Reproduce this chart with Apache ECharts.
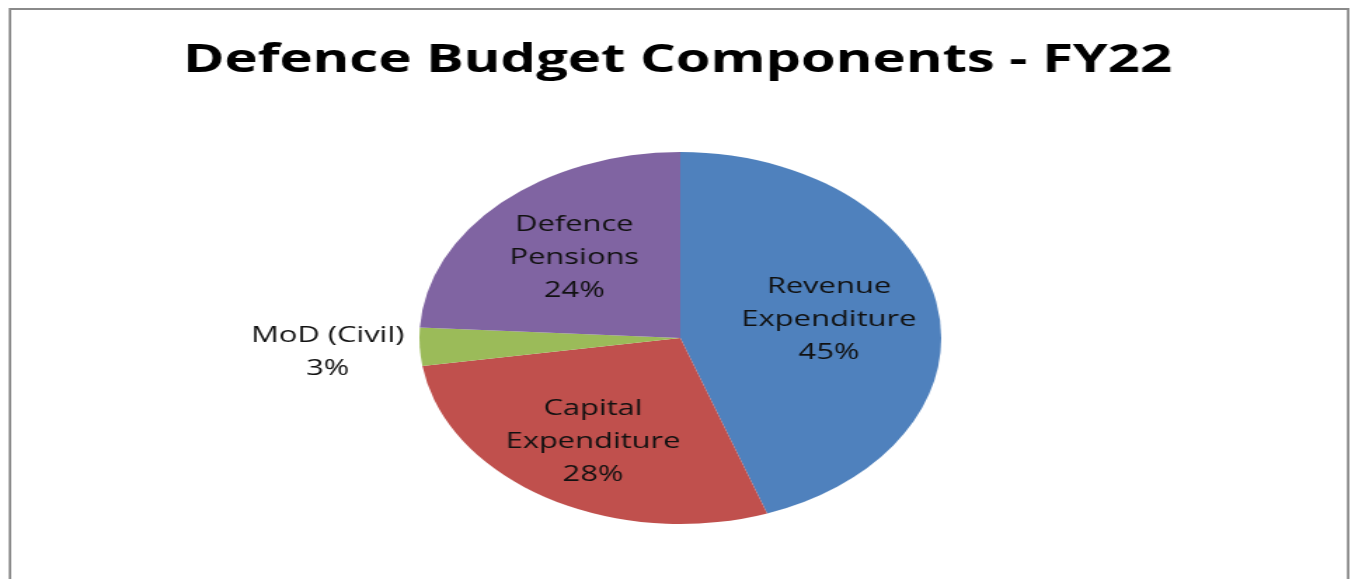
<!DOCTYPE html>
<html>
<head>
<meta charset="utf-8">
<script src="https://cdn.jsdelivr.net/npm/echarts@6/dist/echarts.min.js"></script>
<style>
  html, body { margin: 0; padding: 0; background: #fff; overflow: hidden; }
  #wrap { width: 1355px; height: 579px; overflow: hidden; }
  #chart { width: 966px; height: 579px; transform: scaleX(1.4027); transform-origin: 0 0; }
</style>
</head>
<body>
<div id="wrap"><div id="chart"></div></div>
<script>
const titleText = 'Defence Budget Components - FY22';
const categories = ['Revenue\nExpenditure', 'Capital\nExpenditure', 'MoD (Civil)', 'Defence\nPensions'];
const shares = [44.6, 28.0, 3.3, 24.1];
const colors = ['#4F81BD', '#C0504D', '#9BBB59', '#8064A2'];
const outsideLabels = ['MoD (Civil)'];
// radial placement of the inside labels, as a fraction of the radius
const labelRadius = [0.56, 0.63, 0, 0.573];

const CX = 485, CY = 338, R = 186;
const chart = echarts.init(document.getElementById('chart'), null, { renderer: 'canvas' });

chart.setOption({
  backgroundColor: '#fff',
  animation: false,
  title: {
    text: titleText,
    left: 'center',
    top: 36,
    textStyle: { fontFamily: 'Open Sans', fontWeight: 'bold', fontSize: 40, color: '#000' }
  },
  graphic: [{
    type: 'rect',
    shape: { x: 7.1, y: 9, width: 954, height: 620 },
    style: { fill: 'none', stroke: '#8a8a8a', lineWidth: 1.8 },
    silent: true
  }],
  series: [{
    type: 'pie',
    center: [CX, CY],
    radius: [0, R],
    startAngle: 90,
    clockwise: true,
    percentPrecision: 0,
    avoidLabelOverlap: false,
    itemStyle: { borderWidth: 0 },
    emphasis: { disabled: true },
    label: {
      show: true,
      position: 'inside',
      formatter: '{b}\n{d}%',
      fontFamily: 'Open Sans',
      fontSize: 22,
      lineHeight: 33,
      color: '#111',
      align: 'center'
    },
    labelLine: { show: false },
    labelLayout: function (p) {
      const r = p.labelRect;
      const lx = r.x + r.width / 2, ly = r.y + r.height / 2;
      const name = categories[p.dataIndex];
      if (outsideLabels.indexOf(name) >= 0) {
        return { x: lx, y: ly + 5, align: 'center', verticalAlign: 'middle' };
      }
      const k = labelRadius[p.dataIndex] / 0.5;
      return { x: CX + (lx - CX) * k, y: CY + (ly - CY) * k, align: 'center', verticalAlign: 'middle' };
    },
    data: categories.map((c, i) => {
      const item = { name: c, value: shares[i], itemStyle: { color: colors[i] } };
      if (outsideLabels.indexOf(c) >= 0) {
        item.label = { position: 'outside' };
        item.labelLine = { show: false, length: 4, length2: 2 };
      }
      return item;
    })
  }]
});
</script>
</body>
</html>
